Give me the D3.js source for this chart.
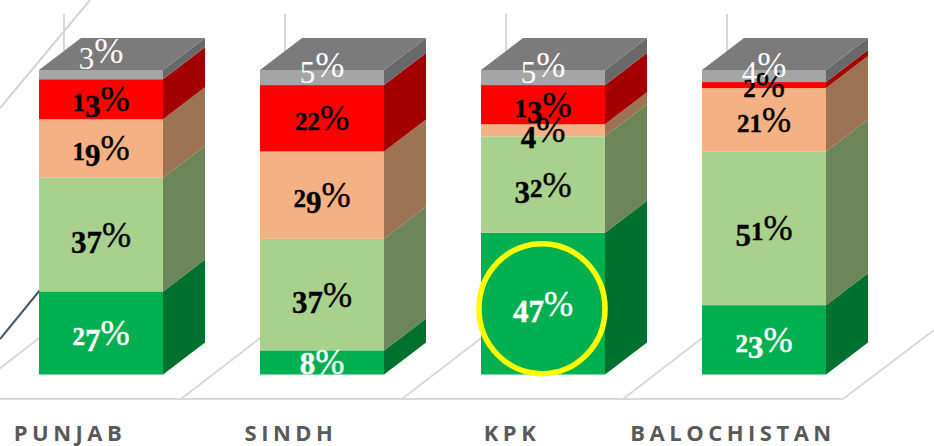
<!DOCTYPE html>
<html>
<head>
<meta charset="utf-8">
<script src="https://cdn.jsdelivr.net/npm/d3@7"></script>
<style>
	html, body { margin: 0; background: #fff; }
	svg { display: block; }
	.value { font-family: "Liberation Serif", serif; font-weight: bold; }
	.value .pct { font-weight: normal; }
	.value.thin { font-weight: normal; }
	.category { font-family: "Open Sans", sans-serif; font-weight: 700; font-size: 22px; letter-spacing: 4.5px; fill: #595959; }
</style>
</head>
<body>
<svg id="chart" width="934" height="446"></svg>
<script>
const categories = ["PUNJAB", "SINDH", "KPK", "BALOCHISTAN"];
const seriesGreen = [27, 8, 47, 23];
const seriesLightGreen = [37, 37, 32, 51];
const seriesPeach = [19, 29, 4, 21];
const seriesRed = [13, 22, 13, 2];
const seriesGrey = [3, 5, 5, 4];
const series = [seriesGreen, seriesLightGreen, seriesPeach, seriesRed, seriesGrey];

const frontColors = ["#00b050", "#a9d18e", "#f4b183", "#ff0000", "#a5a5a5"];
const sideColors = ["#00702f", "#6c8559", "#9c7353", "#a30000", "#696969"];
const topColor = "#7b7b7b";
const labelColors = ["#fff", "#000", "#000", "#000", "#fff"];

// the picture's labels on the top segment float above the segment
const topLabelNudge = [-24, -13, -13, -11];

const bounds = { minX: 39, maxY: 374.5, minY: 70, step: 221, barWidth: 124 };
const depth = { x: 42, y: 32 };

const svg = d3.select("svg#chart");
const scaleX = d3.scaleLinear().domain([0, 1]).range([bounds.minX, bounds.minX + bounds.step]);
const scaleY = d3.scaleLinear().domain([0, 100]).range([bounds.maxY, bounds.minY]);

// percent stacked, every column is scaled to its own sum
const totals = categories.map((_, i) => d3.sum(series, s => s[i]));
const segments = categories.flatMap((_, i) => {
	let acc = 0;
	return series.map((s, k) => {
		let d = { col: i, k: k, value: s[i], y0: acc / totals[i] * 100 };
		acc += s[i];
		d.y1 = acc / totals[i] * 100;
		return d;
	});
});

const grid = svg.append("g").attr("fill", "none").attr("stroke", "#d9d9d9").attr("stroke-width", 2);

// floor
grid.append("line").attr("x1", 0).attr("x2", scaleX(3) + bounds.barWidth + 17).attr("y1", 399).attr("y2", 399);
grid.selectAll("line.floor")
	.data(d3.range(0, 4))
	.join("line")
	.classed("floor", true)
	.attr("x1", d => scaleX(d) - 79)
	.attr("y1", 399)
	.attr("x2", d => scaleX(d) - 79 + 91)
	.attr("y2", 399 - 70);
grid.append("line")
	.attr("x1", scaleX(3) + bounds.barWidth + 17).attr("y1", 399)
	.attr("x2", 934).attr("y2", 330);

// back wall
grid.selectAll("line.wall")
	.data(categories)
	.join("line")
	.classed("wall", true)
	.attr("x1", (_, i) => scaleX(i) + 25)
	.attr("x2", (_, i) => scaleX(i) + 25)
	.attr("y1", 14)
	.attr("y2", 60);

// the two stray lines coming in from the left of the slide
svg.append("line").attr("x1", 90).attr("y1", 0).attr("x2", 0).attr("y2", 108)
	.attr("stroke", "#ced3dd").attr("stroke-width", 2);
svg.append("line").attr("x1", 40).attr("y1", 290).attr("x2", 0).attr("y2", 339)
	.attr("stroke", "#44546a").attr("stroke-width", 2);

const bars = svg.append("g");

bars.selectAll("path.side")
	.data(segments)
	.join("path")
	.classed("side", true)
	.attr("fill", d => sideColors[d.k])
	.attr("d", d => {
		let x = scaleX(d.col) + bounds.barWidth;
		return `M${x} ${scaleY(d.y0)}L${x + depth.x} ${scaleY(d.y0) - depth.y}L${x + depth.x} ${scaleY(d.y1) - depth.y}L${x} ${scaleY(d.y1)}Z`;
	});

bars.selectAll("path.top")
	.data(categories)
	.join("path")
	.classed("top", true)
	.attr("fill", topColor)
	.attr("d", (_, i) => {
		let x = scaleX(i), y = scaleY(100);
		return `M${x} ${y}L${x + depth.x} ${y - depth.y}L${x + bounds.barWidth + depth.x} ${y - depth.y}L${x + bounds.barWidth} ${y}Z`;
	});

bars.selectAll("rect.front")
	.data(segments)
	.join("rect")
	.classed("front", true)
	.attr("fill", d => frontColors[d.k])
	.attr("x", d => scaleX(d.col))
	.attr("width", bounds.barWidth)
	.attr("y", d => scaleY(d.y1))
	.attr("height", d => scaleY(d.y0) - scaleY(d.y1));

// highlight ring on the KPK green segment
const kpk = segments.find(d => d.col === 2 && d.k === 0);
svg.append("ellipse")
	.attr("cx", scaleX(2) + bounds.barWidth / 2 - 1)
	.attr("cy", (scaleY(kpk.y0) + scaleY(kpk.y1)) / 2 + 5)
	.attr("rx", 63)
	.attr("ry", 65)
	.attr("fill", "none")
	.attr("stroke", "#ffff00")
	.attr("stroke-width", 5.5);

/*
 * Liberation Serif only has lining figures, the picture uses old style ones,
 * so each digit gets its own size and baseline shift
 */
const digitStyle = d => {
	if ("012".includes(d)) return { size: 25, drop: 0 };
	if ("34579".includes(d)) return { size: 31, drop: 6 };
	return { size: 31, drop: 0 };
};

const labels = svg.append("g").selectAll("text.value")
	.data(segments)
	.join("text")
	.attr("class", d => d.k === 4 ? "value thin" : "value")
	.attr("text-anchor", "middle")
	.attr("fill", d => labelColors[d.k])
	.attr("stroke", d => labelColors[d.k])
	.attr("stroke-width", d => d.k === 4 ? 0 : 0.4)
	.attr("x", d => scaleX(d.col) + bounds.barWidth / 2)
	.attr("y", d => (scaleY(d.y0) + scaleY(d.y1)) / 2 + 12 + (d.k === 4 ? topLabelNudge[d.col] : 0));

labels.each(function(d) {
	let text = d3.select(this);
	let last = 0;
	String(d.value).split("").forEach(c => {
		let st = digitStyle(c);
		text.append("tspan").attr("font-size", st.size).attr("dy", st.drop - last).text(c);
		last = st.drop;
	});
	text.append("tspan").classed("pct", true).attr("font-size", 35).attr("dy", -last).text("%");
});

svg.append("g").selectAll("text.category")
	.data(categories)
	.join("text")
	.classed("category", true)
	.attr("text-anchor", "middle")
	.attr("x", (_, i) => scaleX(i) + bounds.barWidth / 2 - 31)
	.attr("y", 441)
	.text(d => d);
</script>
</body>
</html>
